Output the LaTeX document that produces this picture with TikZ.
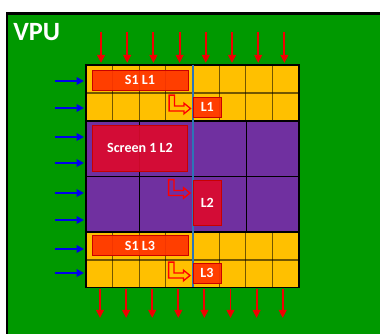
\documentclass[tikz,border=0pt]{standalone}
\usepackage{fontspec}
\setmainfont{Carlito}
\usepackage{tikz}
\usetikzlibrary{arrows.meta}

\definecolor{vpugreen}{RGB}{0,153,0}
\definecolor{cellyellow}{RGB}{255,192,0}
\definecolor{blockpurple}{RGB}{112,48,160}
\definecolor{lineorange}{RGB}{255,51,0}
\definecolor{screenred}{RGB}{220,10,45}
\definecolor{edgered}{RGB}{200,0,0}
\definecolor{splitblue}{RGB}{46,117,182}
\definecolor{flowred}{RGB}{240,0,0}
\definecolor{flowblue}{RGB}{0,0,235}

\begin{document}
\begin{tikzpicture}[
    x=0.02cm,
    y=-0.02cm,
    font=\bfseries,
    redarr/.style={
        -{Triangle[length=0.16cm,width=0.15cm]},
        draw=flowred,
        line width=1.1pt
    },
    bluearr/.style={
        -{Triangle[length=0.15cm,width=0.15cm]},
        draw=flowblue,
        line width=1.1pt
    },
    cellline/.style={draw=black, draw opacity=0.55, line width=0.6pt},
    blockline/.style={draw=black, line width=0.85pt},
    linebox/.style={
        fill=lineorange,
        draw=edgered,
        fill opacity=0.92,
        text opacity=1,
        text=white,
        line width=0.5pt,
        inner sep=0pt,
        font=\bfseries\fontsize{8}{9.5}\selectfont
    },
    screenbox/.style={linebox, fill=screenred},
    turnarr/.style={draw=red, line width=0.75pt, line join=miter}
]
\useasboundingbox (0,0) rectangle (380,334);
\fill[white] (0,0) rectangle (380,334);

% VPU frame
\filldraw[fill=vpugreen, draw=black, line width=1.2pt] (7,13.5) rectangle (392,348);
\node[text=white, anchor=base west, inner sep=0pt, font=\bfseries\fontsize{15}{18}\selectfont] (vpu) at (13,41) {VPU};

% cell bands
\fill[cellyellow] (86,65) rectangle (299,121);
\fill[blockpurple] (86,121) rectangle (299,232);
\fill[cellyellow] (86,232) rectangle (299,287.5);

% small cells, top and bottom bands
\foreach \c in {1,...,7} {
    \draw[cellline] ({86+26.625*\c},65) -- ({86+26.625*\c},121);
    \draw[cellline] ({86+26.625*\c},232) -- ({86+26.625*\c},287.5);
}
\draw[cellline] (86,93) -- (299,93);
\draw[cellline] (86,260) -- (299,260);

% large blocks
\draw[blockline] (139.25,121) -- (139.25,232);
\draw[blockline] (246.75,121) -- (246.75,232);
\draw[blockline] (86,176.5) -- (299,176.5);
\draw[blockline] (86,121) -- (299,121);
\draw[blockline] (86,232) -- (299,232);
\draw[blockline] (86,65) rectangle (299,287.5);

% split line
\draw[splitblue, line width=0.8pt] (193,65) -- (193,287.5);

% line buffers
\node[linebox, minimum width=1.92cm, minimum height=0.4cm] (s1l1) at (140,80) {S1 L1};
\node[linebox, minimum width=0.57cm, minimum height=0.4cm] (l1) at (207.3,107) {L1};
\node[screenbox, minimum width=1.91cm, minimum height=0.92cm] (scr1l2) at (140,148.3) {Screen 1 L2};
\node[screenbox, minimum width=0.57cm, minimum height=0.9cm] (l2) at (207.3,203.2) {L2};
\node[linebox, minimum width=1.92cm, minimum height=0.4cm] (s1l3) at (140,245.7) {S1 L3};
\node[linebox, minimum width=0.56cm, minimum height=0.4cm] (l3) at (207,273) {L3};

% turn arrows
\foreach \bx/\by in {168.5/94.5, 168/179, 168/261.5}
    \draw[turnarr, shift={(\bx,\by)}] (0.6,0.6) -- (6,0.6) -- (6,11.5) -- (15.5,11.5)
        -- (15.5,8.7) -- (22,14) -- (15.5,19.3) -- (15.5,16.5) -- (0.6,16.5) -- cycle;

% input and output flows
\foreach \i in {0,...,7} {
    \draw[redarr] ({101+26.2*\i},32) -- ({101+26.2*\i},63);
    \draw[redarr] ({100+26.1*\i},289) -- ({100+26.1*\i},318);
}
\foreach \y in {81,108,137,163,193,220,249,273}
    \draw[bluearr] (55,\y) -- (84,\y);

\end{tikzpicture}
\end{document}
